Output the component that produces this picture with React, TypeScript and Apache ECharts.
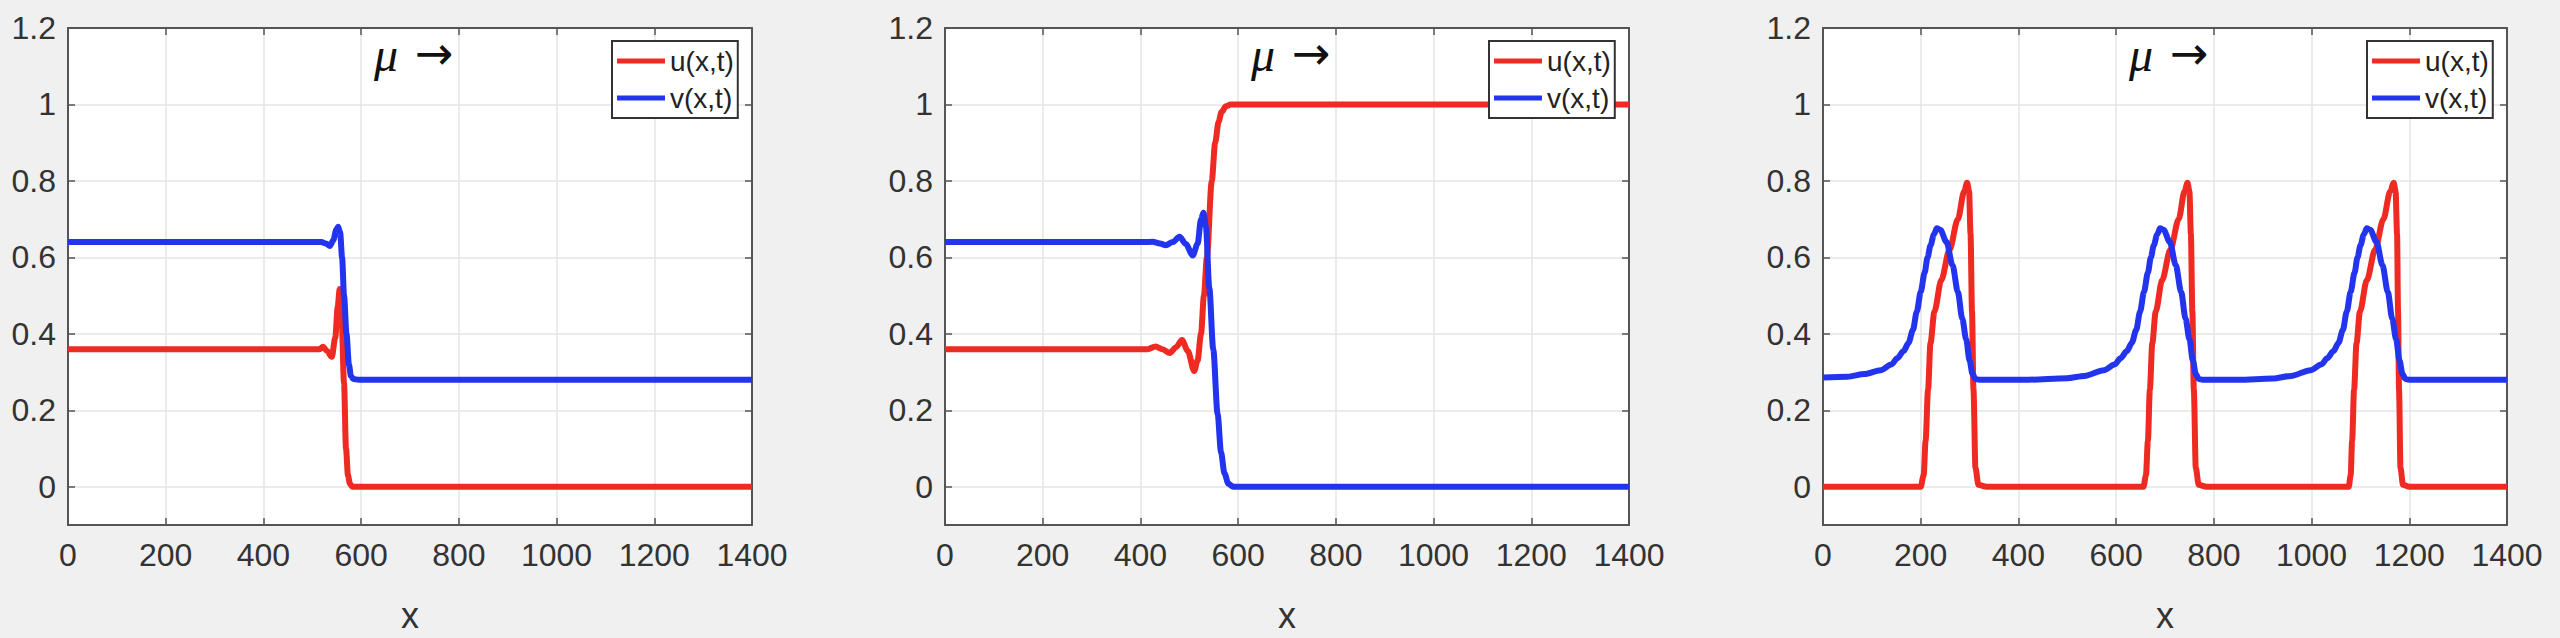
import React, { useEffect, useRef } from "react";
import * as echarts from "echarts";

// ---------- tick values ----------
const X_TICKS = [0, 200, 400, 600, 800, 1000, 1200, 1400];
const Y_TICKS = [0, 0.2, 0.4, 0.6, 0.8, 1, 1.2];
const SERIES_NAMES = ["u(x,t)", "v(x,t)"];
const ANNOTATION = "μ";
const ARROW = "→";

// ---------- panel 1 ----------
const P1_U_X = [0, 500, 515, 522, 530, 540, 547, 552, 556, 560, 565, 569, 573, 577, 582, 590, 1400];
const P1_U_Y = [0.36, 0.36, 0.36, 0.366, 0.355, 0.34, 0.39, 0.47, 0.517, 0.44, 0.27, 0.1, 0.03, 0.008, 0, 0, 0];
const P1_V_X = [0, 505, 519, 528, 536, 543, 549, 553, 557, 561, 565, 570, 575, 579, 584, 595, 1400];
const P1_V_Y = [0.64, 0.64, 0.64, 0.636, 0.63, 0.645, 0.672, 0.68, 0.665, 0.6, 0.5, 0.4, 0.32, 0.29, 0.282, 0.28, 0.28];

// ---------- panel 2 ----------
const P2_U_X = [0, 400, 415, 431, 445, 460, 473, 485, 497, 510, 517, 524, 530, 536, 546, 553, 560, 566, 575, 585, 1400];
const P2_U_Y = [0.36, 0.36, 0.36, 0.367, 0.36, 0.35, 0.365, 0.384, 0.355, 0.303, 0.33, 0.4, 0.5, 0.6, 0.8, 0.9, 0.955, 0.98, 0.995, 1, 1];
const P2_V_X = [0, 410, 425, 440, 452, 466, 480, 493, 507, 517, 524, 529, 534, 541, 549, 558, 565, 572, 580, 590, 1400];
const P2_V_Y = [0.64, 0.64, 0.641, 0.636, 0.632, 0.64, 0.654, 0.635, 0.605, 0.635, 0.7, 0.717, 0.68, 0.52, 0.36, 0.19, 0.09, 0.035, 0.008, 0, 0];

// ---------- panel 3 ----------
const P3_U_X = [
  0, 200, 206, 210, 215, 220, 228, 242, 259, 276, 289, 295, 299, 302, 305, 308, 312, 318, 335,
  656, 661, 665, 669, 674, 681, 694, 711, 728, 740, 746, 750, 753, 756, 759, 763, 769, 785,
  1076, 1080, 1083, 1087, 1092, 1099, 1113, 1130, 1147, 1161, 1168, 1172, 1175, 1177, 1179, 1182, 1187, 1200, 1400,
];
const P3_U_Y = [
  0, 0, 0.03, 0.12, 0.254, 0.376, 0.458, 0.54, 0.62, 0.7, 0.773, 0.795, 0.773, 0.66, 0.458, 0.254, 0.05, 0.005, 0,
  0, 0.03, 0.12, 0.254, 0.376, 0.458, 0.54, 0.62, 0.7, 0.773, 0.795, 0.773, 0.66, 0.458, 0.254, 0.05, 0.005, 0,
  0, 0.03, 0.12, 0.254, 0.376, 0.458, 0.54, 0.62, 0.7, 0.773, 0.795, 0.773, 0.66, 0.458, 0.254, 0.05, 0.005, 0, 0,
];
const P3_V_X = [
  0, 50, 85, 118, 140, 152, 165, 175, 184, 192, 200, 208, 214, 220, 227, 233, 240, 253, 265, 276, 285, 293, 300, 306, 312, 320,
  420, 500, 535, 575, 597, 609, 622, 632, 641, 649, 657, 665, 671, 677, 684, 690, 697, 710, 722, 733, 742, 750, 757, 763, 769, 777,
  850, 920, 958, 998, 1020, 1032, 1045, 1055, 1064, 1072, 1080, 1088, 1094, 1100, 1107, 1113, 1120, 1133, 1145, 1156, 1165, 1173, 1180, 1186, 1192, 1200, 1400,
];
const P3_V_Y = [
  0.286, 0.288, 0.295, 0.305, 0.32, 0.336, 0.355, 0.376, 0.41, 0.458, 0.51, 0.56, 0.6, 0.631, 0.66, 0.676, 0.672, 0.64, 0.58, 0.51, 0.44, 0.386, 0.33, 0.295, 0.282, 0.28,
  0.28, 0.284, 0.29, 0.305, 0.32, 0.336, 0.355, 0.376, 0.41, 0.458, 0.51, 0.56, 0.6, 0.631, 0.66, 0.676, 0.672, 0.64, 0.58, 0.51, 0.44, 0.386, 0.33, 0.295, 0.282, 0.28,
  0.28, 0.283, 0.29, 0.305, 0.32, 0.336, 0.355, 0.376, 0.41, 0.458, 0.51, 0.56, 0.6, 0.631, 0.66, 0.676, 0.672, 0.64, 0.58, 0.51, 0.44, 0.386, 0.33, 0.295, 0.282, 0.28, 0.28,
];

const PANELS = [
  { u: [P1_U_X, P1_U_Y], v: [P1_V_X, P1_V_Y] },
  { u: [P2_U_X, P2_U_Y], v: [P2_V_X, P2_V_Y] },
  { u: [P3_U_X, P3_U_Y], v: [P3_V_X, P3_V_Y] },
];

// ---------- layout / style ----------
const GRID_LEFTS = [68, 945, 1823];
const GRID_TOP = 28;
const GRID_W = 684;
const GRID_H = 520;
const RED = "#ee2a22";
const BLUE = "#2234ee";
const FRAME = "#555555";
const TEXT = "#333333";
const FONT = "'Liberation Sans', Arial, Helvetica, sans-serif";

const zip = (xs: number[], ys: number[]) => xs.map((x, i) => [x, ys[i]]);

export default function App() {
  const ref = useRef<HTMLDivElement>(null);

  useEffect(() => {
    if (!ref.current) return;
    document.body.style.margin = "0";
    const chart = echarts.init(ref.current, undefined, { renderer: "svg" });

    const grid: any[] = [];
    const xAxis: any[] = [];
    const yAxis: any[] = [];
    const series: any[] = [];
    const legend: any[] = [];
    const graphic: any[] = [];

    const axisLine = { show: true, onZero: false, lineStyle: { color: FRAME, width: 2 } };
    const axisTick = { show: true, inside: true, length: 7, lineStyle: { color: FRAME, width: 1.5 } };

    PANELS.forEach((p, i) => {
      const left = GRID_LEFTS[i];
      grid.push({
        left,
        top: GRID_TOP,
        width: GRID_W,
        height: GRID_H,
        show: true,
        backgroundColor: "#ffffff",
        borderWidth: 0,
        containLabel: false,
      });
      xAxis.push({
        type: "value",
        gridIndex: i,
        position: "bottom",
        min: 0,
        max: 1400,
        interval: 200,
        axisLine,
        axisTick,
        axisLabel: {
          formatter: (v: number) => String(v),
          fontSize: 32,
          color: TEXT,
          fontFamily: FONT,
          margin: 14,
        },
        splitLine: { show: true, lineStyle: { color: "#e4e4e4", width: 1.5 } },
        name: "x",
        nameLocation: "middle",
        nameGap: 72,
        nameTextStyle: { fontSize: 36, color: TEXT, fontFamily: FONT },
      });
      xAxis.push({
        type: "value",
        gridIndex: i,
        position: "top",
        min: 0,
        max: 1400,
        interval: 200,
        axisLine,
        axisTick,
        axisLabel: { show: false },
        splitLine: { show: false },
      });
      yAxis.push({
        type: "value",
        gridIndex: i,
        position: "left",
        min: -0.1,
        max: 1.2,
        axisLine,
        axisTick: { ...axisTick, customValues: Y_TICKS },
        axisLabel: {
          customValues: Y_TICKS,
          formatter: (v: number) => String(v),
          fontSize: 32,
          color: TEXT,
          fontFamily: FONT,
          margin: 12,
        },
        splitLine: { show: true, lineStyle: { color: "#e4e4e4", width: 1.5 } },
      });
      yAxis.push({
        type: "value",
        gridIndex: i,
        position: "right",
        min: -0.1,
        max: 1.2,
        axisLine,
        axisTick: { ...axisTick, customValues: Y_TICKS },
        axisLabel: { show: false, customValues: Y_TICKS },
        splitLine: { show: false },
      });

      const common = {
        type: "line",
        xAxisIndex: 2 * i,
        yAxisIndex: 2 * i,
        showSymbol: false,
        symbol: "none",
        smooth: 0.3,
        smoothMonotone: "x",
        silent: true,
      };
      series.push({
        ...common,
        name: SERIES_NAMES[0],
        data: zip(p.u[0], p.u[1]),
        itemStyle: { color: RED },
        lineStyle: { color: RED, width: 6 },
        z: 2,
      });
      series.push({
        ...common,
        name: SERIES_NAMES[1],
        data: zip(p.v[0], p.v[1]),
        itemStyle: { color: BLUE },
        lineStyle: { color: BLUE, width: 6 },
        z: 3,
      });

      legend.push({
        data: SERIES_NAMES,
        orient: "vertical",
        left: left + GRID_W - 14 - 126,
        top: 41,
        icon: "rect",
        itemWidth: 48,
        itemHeight: 5,
        itemGap: 5,
        padding: [4, 4, 4, 5],
        borderColor: "#333333",
        borderWidth: 2,
        backgroundColor: "#ffffff",
        selectedMode: false,
        textStyle: { fontSize: 28, color: "#222222", fontFamily: FONT, lineHeight: 32 },
      });

      graphic.push({
        type: "text",
        x: left + 306,
        y: 54,
        style: {
          text: ANNOTATION,
          font: "italic 48px 'Liberation Serif', 'Times New Roman', serif",
          fill: "#111111",
          verticalAlign: "middle",
        },
        silent: true,
      });
      graphic.push({
        type: "text",
        x: left + 347,
        y: 53,
        style: {
          text: ARROW,
          font: "46px 'DejaVu Sans', sans-serif",
          fill: "#111111",
          verticalAlign: "middle",
        },
        silent: true,
      });
    });

    chart.setOption({
      animation: false,
      backgroundColor: "#f0f0f0",
      grid,
      xAxis,
      yAxis,
      series,
      legend,
      graphic,
    });

    return () => chart.dispose();
  }, []);

  return (
    <div
      ref={ref}
      style={{ position: "fixed", left: 0, top: 0, width: 2560, height: 638 }}
    />
  );
}
